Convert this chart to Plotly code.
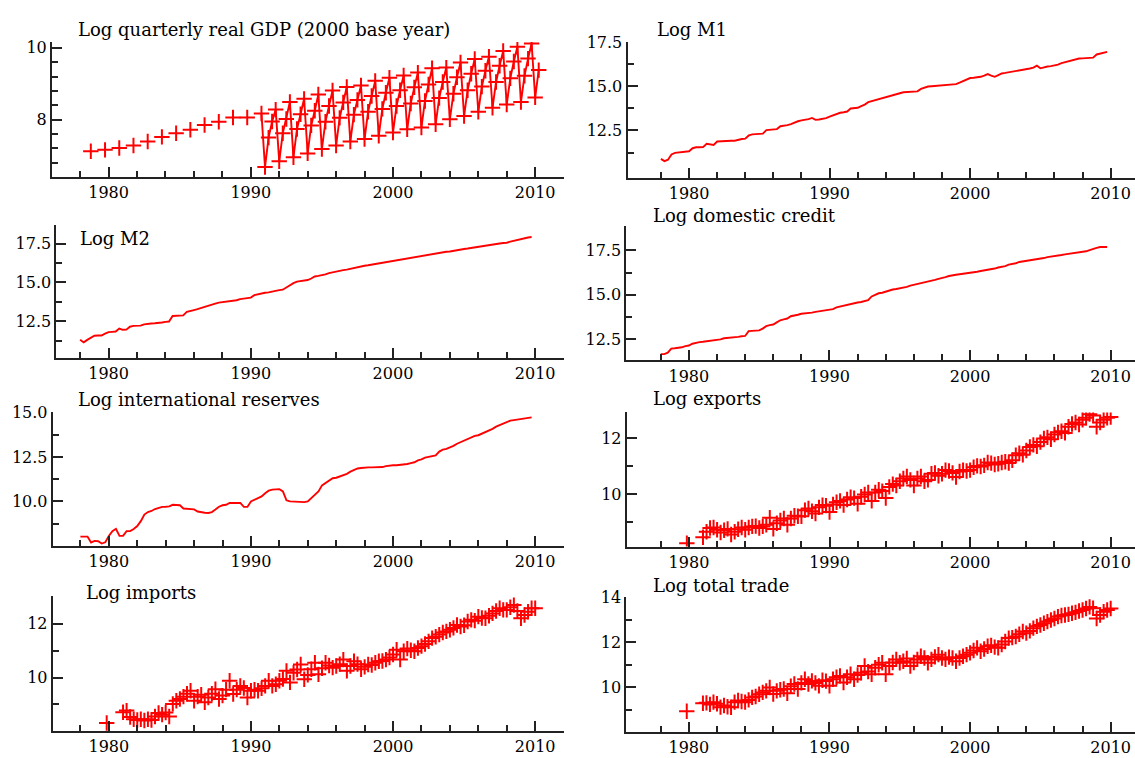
import plotly.graph_objects as go

# ---------------- data ----------------
# GDP: annual observations (plotted at Q4 of each year), then quarterly from 1990Q4
gdp_annual_x = [1978.75, 1979.75, 1980.75, 1981.75, 1982.75, 1983.75,
                1984.75, 1985.75, 1986.75, 1987.75, 1988.75, 1989.75]
gdp_annual = [7.12, 7.16, 7.21, 7.28, 7.39, 7.52, 7.62, 7.72, 7.85, 7.94, 8.06, 8.06]
gdp_q_start = 1990.75
gdp_q = [8.17,
         6.68, 7.50, 7.95, 8.28,
         6.84, 7.62, 8.02, 8.49,
         6.95, 7.74, 8.15, 8.58,
         7.06, 7.84, 8.25, 8.70,
         7.18, 7.94, 8.38, 8.81,
         7.28, 8.05, 8.48, 8.91,
         7.39, 8.14, 8.55, 8.95,
         7.46, 8.22, 8.66, 9.08,
         7.55, 8.30, 8.75, 9.17,
         7.64, 8.38, 8.82, 9.23,
         7.73, 8.45, 8.90, 9.31,
         7.78, 8.52, 8.98, 9.43,
         7.87, 8.60, 9.05, 9.45,
         8.01, 8.72, 9.18, 9.59,
         8.10, 8.82, 9.28, 9.69,
         8.22, 8.92, 9.36, 9.75,
         8.33, 9.05, 9.50, 9.91,
         8.42, 9.15, 9.62, 10.03,
         8.49, 9.22, 9.70, 10.12,
         8.62, 9.38]

money_start = 1978.0
m1 = [10.90, 10.77, 10.85, 11.15, 11.24, 11.27, 11.28, 11.30,
      11.33, 11.50, 11.55, 11.55, 11.56, 11.75, 11.72, 11.68,
      11.88, 11.90, 11.90, 11.91, 11.92, 11.92, 11.99, 12.02,
      12.04, 12.22, 12.28, 12.30, 12.31, 12.32, 12.52, 12.55,
      12.56, 12.58, 12.74, 12.76, 12.80, 12.86, 12.96, 13.02,
      13.07, 13.10, 13.14, 13.21, 13.10, 13.12, 13.14, 13.20,
      13.28, 13.36, 13.45, 13.50, 13.53, 13.57, 13.74, 13.76,
      13.78, 13.88, 13.96, 14.10, 14.16, 14.20, 14.25, 14.30,
      14.38, 14.43, 14.50, 14.55, 14.60, 14.66, 14.68, 14.69,
      14.70, 14.71, 14.85, 14.92, 14.98, 15.00, 15.02, 15.03,
      15.05, 15.06, 15.08, 15.10, 15.12, 15.20, 15.30, 15.38,
      15.46, 15.48, 15.50, 15.53, 15.60, 15.68, 15.60, 15.53,
      15.62, 15.72, 15.75, 15.78, 15.82, 15.85, 15.88, 15.92,
      15.95, 16.00, 16.05, 16.16, 16.01, 16.08, 16.11, 16.13,
      16.16, 16.22, 16.30, 16.36, 16.42, 16.48, 16.52, 16.56,
      16.57, 16.59, 16.60, 16.61, 16.79, 16.84, 16.89, 16.94]

m2 = [11.31, 11.14, 11.30, 11.46, 11.57, 11.58, 11.58, 11.70,
      11.80, 11.82, 11.84, 12.03, 11.95, 11.96, 12.15, 12.20,
      12.21, 12.22, 12.30, 12.35, 12.36, 12.37, 12.38, 12.42,
      12.46, 12.48, 12.84, 12.85, 12.86, 12.88, 13.10, 13.18,
      13.22, 13.28, 13.36, 13.42, 13.48, 13.56, 13.64, 13.70,
      13.73, 13.74, 13.76, 13.82, 13.85, 13.92, 13.96, 14.00,
      14.02, 14.18, 14.24, 14.30, 14.33, 14.36, 14.42, 14.46,
      14.50, 14.53, 14.68, 14.80, 14.95, 15.05, 15.10, 15.13,
      15.15, 15.25, 15.38, 15.42, 15.46, 15.52, 15.60, 15.66,
      15.72, 15.76, 15.79, 15.82, 15.88, 15.94, 15.98, 16.03,
      16.07, 16.10, 16.14, 16.18, 16.22, 16.26, 16.31, 16.34,
      16.40, 16.44, 16.48, 16.52, 16.55, 16.60, 16.65, 16.67,
      16.70, 16.74, 16.80, 16.84, 16.88, 16.91, 16.94, 16.97,
      16.99, 17.04, 17.08, 17.12, 17.15, 17.18, 17.22, 17.26,
      17.29, 17.33, 17.37, 17.40, 17.44, 17.47, 17.50, 17.53,
      17.55, 17.62, 17.68, 17.74, 17.80, 17.85, 17.89, 17.92]

credit = [11.67, 11.67, 11.75, 11.98, 12.00, 12.02, 12.05, 12.12,
          12.15, 12.25, 12.31, 12.34, 12.36, 12.38, 12.44, 12.45,
          12.46, 12.50, 12.56, 12.57, 12.58, 12.60, 12.64, 12.67,
          12.69, 12.96, 12.97, 12.99, 13.00, 13.10, 13.24, 13.30,
          13.33, 13.45, 13.57, 13.62, 13.67, 13.80, 13.82, 13.88,
          13.94, 13.95, 13.97, 14.00, 14.04, 14.07, 14.10, 14.13,
          14.17, 14.20, 14.30, 14.35, 14.40, 14.43, 14.47, 14.52,
          14.57, 14.60, 14.63, 14.70, 14.91, 15.00, 15.09, 15.12,
          15.19, 15.25, 15.30, 15.33, 15.36, 15.40, 15.45, 15.52,
          15.56, 15.60, 15.65, 15.69, 15.74, 15.78, 15.84, 15.90,
          15.93, 16.00, 16.06, 16.11, 16.13, 16.16, 16.18, 16.20,
          16.24, 16.28, 16.30, 16.34, 16.37, 16.39, 16.46, 16.48,
          16.54, 16.57, 16.62, 16.70, 16.72, 16.78, 16.85, 16.88,
          16.90, 16.91, 16.95, 17.00, 17.02, 17.07, 17.12, 17.14,
          17.18, 17.20, 17.24, 17.28, 17.31, 17.35, 17.38, 17.40,
          17.41, 17.45, 17.52, 17.56, 17.64, 17.69, 17.69, 17.69]

reserves = [8.02, 8.02, 8.02, 7.69, 7.78, 7.76, 7.63, 7.70,
            8.06, 8.33, 8.46, 8.06, 8.06, 8.33, 8.33, 8.45,
            8.61, 8.89, 9.26, 9.40, 9.46, 9.57, 9.65, 9.69,
            9.70, 9.72, 9.81, 9.80, 9.78, 9.60, 9.57, 9.57,
            9.55, 9.43, 9.38, 9.36, 9.35, 9.40, 9.54, 9.70,
            9.78, 9.81, 9.91, 9.91, 9.91, 9.91, 9.69, 9.69,
            10.00, 10.10, 10.19, 10.28, 10.46, 10.60, 10.66, 10.68,
            10.69, 10.56, 10.06, 10.00, 9.98, 9.96, 9.94, 9.96,
            10.00, 10.20, 10.40, 10.56, 10.90, 11.05, 11.20, 11.30,
            11.33, 11.40, 11.45, 11.55, 11.67, 11.75, 11.85, 11.88,
            11.91, 11.91, 11.91, 11.91, 11.92, 11.93, 11.98, 12.02,
            12.03, 12.03, 12.04, 12.05, 12.10, 12.15, 12.20, 12.31,
            12.36, 12.46, 12.50, 12.55, 12.59, 12.80, 12.91, 12.95,
            13.02, 13.12, 13.24, 13.33, 13.43, 13.52, 13.61, 13.68,
            13.72, 13.80, 13.88, 13.98, 14.08, 14.20, 14.28, 14.35,
            14.42, 14.54, 14.57, 14.60, 14.63, 14.66, 14.69, 14.72]

# trade: one isolated annual observation for 1980, then quarterly from 1981Q1
trade_first_x = 1979.85
exports_first = 8.24
imports_first = 8.31
total_first = 8.95
trade_start = 1981.0
exports = [8.45, 8.65, 8.78, 8.80, 8.72, 8.62, 8.70, 8.75,
           8.55, 8.65, 8.74, 8.80, 8.72, 8.80, 8.84, 8.85,
           8.78, 8.84, 8.90, 9.15, 8.75, 8.95, 9.05, 9.12,
           8.90, 9.12, 9.22, 9.20, 9.20, 9.42, 9.48, 9.38,
           9.30, 9.52, 9.60, 9.58, 9.35, 9.62, 9.70, 9.75,
           9.60, 9.80, 9.88, 9.85, 9.65, 9.90, 9.98, 10.05,
           9.75, 10.05, 10.15, 10.10, 9.85, 10.25, 10.35, 10.30,
           10.45, 10.55, 10.62, 10.50, 10.30, 10.55, 10.62, 10.45,
           10.50, 10.72, 10.75, 10.65, 10.72, 10.85, 10.82, 10.75,
           10.60, 10.80, 10.85, 10.82, 10.85, 10.95, 11.00, 10.98,
           11.02, 11.12, 11.10, 11.05, 11.08, 11.12, 11.15, 11.10,
           11.20, 11.38, 11.45, 11.40, 11.55, 11.68, 11.75, 11.70,
           11.85, 11.98, 12.02, 11.95, 12.12, 12.20, 12.24, 12.18,
           12.40, 12.50, 12.55, 12.48, 12.65, 12.72, 12.85, 12.80,
           12.40, 12.55, 12.65, 12.72, 12.75]
imports = [8.71, 8.77, 8.53, 8.45, 8.42, 8.45, 8.40, 8.45,
           8.42, 8.55, 8.68, 8.62, 8.70, 8.55, 9.02, 9.14,
           9.20, 9.29, 9.40, 9.51, 9.14, 9.29, 9.36, 9.08,
           9.26, 9.40, 9.57, 9.20, 9.33, 9.55, 9.88, 9.39,
           9.55, 9.69, 9.61, 9.26, 9.51, 9.55, 9.51, 9.60,
           9.69, 9.88, 9.69, 9.75, 9.88, 9.95, 10.25, 9.82,
           10.18, 10.30, 10.49, 9.94, 10.10, 10.31, 10.55, 10.12,
           10.35, 10.55, 10.45, 10.37, 10.43, 10.50, 10.67, 10.25,
           10.43, 10.61, 10.50, 10.31, 10.40, 10.49, 10.47, 10.55,
           10.61, 10.62, 10.67, 10.75, 10.86, 11.04, 10.67, 10.98,
           11.08, 11.02, 10.98, 11.10, 11.17, 11.25, 11.35, 11.47,
           11.52, 11.60, 11.68, 11.72, 11.78, 11.85, 11.96, 11.90,
           11.95, 12.09, 12.15, 12.12, 12.27, 12.22, 12.21, 12.30,
           12.39, 12.48, 12.58, 12.52, 12.52, 12.62, 12.70, 12.48,
           12.21, 12.33, 12.45, 12.58, 12.58]
total_trade = [9.30, 9.32, 9.25, 9.35, 9.28, 9.13, 9.20, 9.15,
               9.12, 9.35, 9.42, 9.38, 9.35, 9.45, 9.56, 9.60,
               9.70, 9.78, 9.85, 10.00, 9.71, 9.85, 9.90, 9.93,
               9.74, 10.05, 10.15, 9.93, 10.20, 10.36, 10.15, 10.29,
               10.20, 10.07, 10.32, 10.28, 10.07, 10.36, 10.45, 10.51,
               10.22, 10.45, 10.58, 10.36, 10.55, 10.65, 10.95, 10.70,
               10.58, 10.87, 11.00, 11.09, 10.58, 10.95, 11.10, 11.24,
               11.09, 11.16, 11.28, 10.95, 11.10, 11.24, 11.38, 11.30,
               11.09, 11.24, 11.35, 11.45, 11.30, 11.24, 11.34, 11.30,
               11.16, 11.30, 11.38, 11.45, 11.53, 11.63, 11.75, 11.60,
               11.70, 11.82, 11.86, 11.78, 11.75, 11.90, 12.03, 12.18,
               12.20, 12.25, 12.35, 12.47, 12.40, 12.50, 12.62, 12.70,
               12.76, 12.84, 12.91, 12.98, 13.05, 13.13, 13.18, 13.20,
               13.23, 13.28, 13.32, 13.38, 13.42, 13.49, 13.56, 13.50,
               13.05, 13.20, 13.35, 13.42, 13.49]

titles = ["Log quarterly real GDP (2000 base year)", "Log M1", "Log M2",
          "Log domestic credit", "Log international reserves", "Log exports",
          "Log imports", "Log total trade"]
x_ticks = [1980, 1990, 2000, 2010]
x_minor = [1978, 1982, 1984, 1986, 1988, 1992, 1994, 1996, 1998,
           2002, 2004, 2006, 2008]
y_ticks = [[8, 10], [12.5, 15.0, 17.5], [12.5, 15.0, 17.5], [12.5, 15.0, 17.5],
           [10.0, 12.5, 15.0], [10, 12], [10, 12], [10, 12, 14]]
y_minor = [[6.8, 7.2, 7.6, 8.4, 8.8, 9.2, 9.6],
           [11.25, 13.75, 16.25],
           [11.25, 13.75, 16.25],
           [13.75, 16.25],
           [8.75, 11.25, 13.75],
           [9, 11],
           [9, 11],
           [9, 11, 13]]


def qdates(start, n):
    return [start + 0.25 * i for i in range(n)]


# ---------------- layout helpers ----------------
W, H = 1135, 758
RED = "#ff0000"
INK = "#222222"
FONT = "DejaVu Serif"

# panel geometry in pixels: x0, x1, ytop, ybottom, xrange, yrange, fmt
panels = [
    (52, 563.6, 33.3, 170, [1976.02, 2012.0], [6.404, 10.165], "d"),
    (627.5, 1135, 33.3, 171, [1975.62, 2011.73], [9.82, 17.5], ".1f"),
    (56.4, 563.6, 218.3, 353.3, [1976.33, 2012.0], [10.13, 18.71], ".1f"),
    (626.3, 1135, 219.3, 355.7, [1975.55, 2011.73], [11.31, 18.89], ".1f"),
    (52.7, 563.6, 408.3, 543.3, [1976.05, 2012.0], [7.5, 15.0], ".1f"),
    (626.7, 1135, 408.3, 544, [1975.57, 2011.73], [8.12, 12.91], "d"),
    (52.7, 563.6, 594, 730.7, [1976.05, 2012.0], [8.01, 13.04], "d"),
    (626.3, 1135, 595, 731.7, [1975.55, 2011.73], [8.03, 14.0], "d"),
]
title_pos = [(76, 21), (655, 21), (78, 232), (651, 209),
             (76, 395), (651, 394), (84, 591), (651, 583)]

fig = go.Figure()

line_style = dict(color=RED, width=1.9)
cross = dict(symbol="cross-thin", size=11, color=RED, line=dict(color=RED, width=2))


def add(i, **kw):
    ax = "" if i == 0 else str(i + 1)
    fig.add_trace(go.Scatter(xaxis="x" + ax, yaxis="y" + ax, showlegend=False,
                             hoverinfo="skip", **kw))


# 1 GDP
add(0, x=gdp_annual_x, y=gdp_annual, mode="markers", marker=cross)
add(0, x=qdates(gdp_q_start, len(gdp_q)), y=gdp_q, mode="lines+markers",
    line=line_style, marker=cross)
# 2-5 money / credit / reserves
for i, series in [(1, m1), (2, m2), (3, credit), (4, reserves)]:
    add(i, x=qdates(money_start, len(series)), y=series, mode="lines", line=line_style)
# 6-8 trade
for i, first, series in [(5, exports_first, exports), (6, imports_first, imports),
                         (7, total_first, total_trade)]:
    add(i, x=[trade_first_x] + qdates(trade_start, len(series)), y=[first] + series,
        mode="markers", marker=cross)

layout = dict(width=W, height=H, margin=dict(l=0, r=0, t=0, b=0),
              paper_bgcolor="white", plot_bgcolor="white", showlegend=False,
              font=dict(family=FONT, color="black", size=16))

axis_common = dict(showgrid=False, zeroline=False, showline=True, linecolor=INK,
                   linewidth=2, ticks="inside", tickcolor=INK, tickwidth=1.5,
                   tickfont=dict(family=FONT, size=16, color="black"))

annotations = []
for i, (x0, x1, yt, yb, xr, yr, fmt) in enumerate(panels):
    sfx = "" if i == 0 else str(i + 1)
    layout["xaxis" + sfx] = dict(
        axis_common, domain=[x0 / W, x1 / W], range=xr, anchor="y" + sfx,
        tickmode="array", tickvals=x_ticks, ticklen=10,
        minor=dict(tickmode="array", tickvals=x_minor, ticks="inside", ticklen=6,
                   tickcolor=INK, tickwidth=1.5))
    layout["yaxis" + sfx] = dict(
        axis_common, domain=[1 - yb / H, 1 - yt / H], range=yr, anchor="x" + sfx,
        tickmode="array", tickvals=y_ticks[i], ticklen=10, tickformat=fmt,
        minor=dict(tickmode="array", tickvals=y_minor[i], ticks="inside", ticklen=6,
                   tickcolor=INK, tickwidth=1.5))
    tx, ty = title_pos[i]
    annotations.append(dict(text=titles[i], x=tx / W, y=1 - ty / H, xref="paper",
                            yref="paper", xanchor="left", yanchor="middle",
                            showarrow=False, font=dict(family=FONT, size=18, color="black")))

layout["annotations"] = annotations
fig.update_layout(**layout)
fig.write_html("out.html", config={"displayModeBar": False},
               post_script="document.body.style.margin='0px';"
                           "document.body.style.overflow='hidden';")
